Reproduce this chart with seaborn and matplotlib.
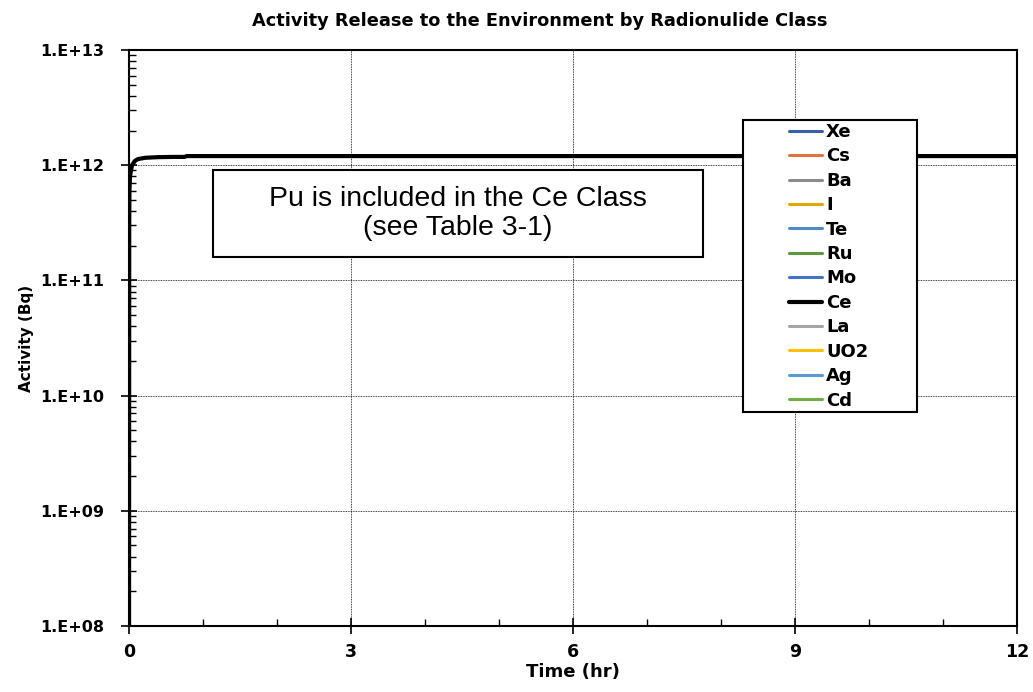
import matplotlib
matplotlib.use("Agg")
import matplotlib.pyplot as plt
import matplotlib.ticker as ticker
from matplotlib.patches import Rectangle
import numpy as np
import pandas as pd
import seaborn as sns

# Ce class release (the only class visible above 1E+08 Bq)
ce_time = [0.0, 0.003, 0.006, 0.013, 0.04, 0.08, 0.12, 0.22, 0.4, 0.6, 0.75, 0.78, 12.0]
ce_activity = [1e7, 3.0e11, 6.0e11, 8.0e11, 1.0e12, 1.09e12, 1.13e12, 1.16e12,
               1.175e12, 1.18e12, 1.18e12, 1.20e12, 1.20e12]

classes = ["Xe", "Cs", "Ba", "I", "Te", "Ru", "Mo", "Ce", "La", "UO2", "Ag", "Cd"]
class_colors = ["#3A5FA8", "#E0743A", "#8C8C8C", "#E0A800", "#4F8AC0", "#5A9A3C",
                "#4472C4", "#000000", "#A5A5A5", "#FFC000", "#5B9BD5", "#70AD47"]

x_ticks = [0, 3, 6, 9, 12]
y_ticks = [1e8, 1e9, 1e10, 1e11, 1e12, 1e13]
y_tick_labels = ["1.E+08", "1.E+09", "1.E+10", "1.E+11", "1.E+12", "1.E+13"]

sns.set_theme(style="white")
plt.rcParams["font.family"] = ["DejaVu Sans"]
for key in ["text.color", "axes.labelcolor", "xtick.color", "ytick.color"]:
    plt.rcParams[key] = "black"

W, H = 1033, 692
fig = plt.figure(figsize=(W / 100, H / 100), dpi=100)
ax = fig.add_axes([129 / W, 1 - 626 / H, (1017 - 129) / W, (626 - 50) / H])

df = pd.DataFrame({"time": ce_time, "activity": ce_activity})
for name, color in zip(classes, class_colors):
    if name == "Ce":
        sns.lineplot(data=df, x="time", y="activity", ax=ax, color=color, lw=3,
                     label=name, zorder=5)
    else:
        ax.plot([], [], color=color, lw=2.2, label=name)

ax.set_yscale("log")
ax.set_xlim(0, 12)
ax.set_ylim(1e8, 1e13)
ax.set_xticks(x_ticks)
ax.set_xticklabels([str(t) for t in x_ticks], fontsize=12.5, fontweight="bold")
ax.set_yticks(y_ticks)
ax.set_yticklabels(y_tick_labels, fontsize=11.5, fontweight="bold")
ax.xaxis.set_minor_locator(ticker.MultipleLocator(1))
ax.yaxis.set_minor_locator(ticker.LogLocator(base=10, subs=np.arange(2, 10), numticks=20))
ax.yaxis.set_minor_formatter(ticker.NullFormatter())
ax.tick_params(bottom=True, left=True, which="both")
ax.tick_params(which="major", direction="inout", length=12, width=1.2, color="black")
ax.tick_params(which="minor", direction="in", length=5, width=1, color="black")
ax.tick_params(axis="x", which="major", pad=6)
ax.tick_params(axis="y", which="major", pad=12)

ax.grid(which="major", color="black", linestyle=(0, (1, 1)), linewidth=0.6)
for s in ax.spines.values():
    s.set_color("black")
    s.set_linewidth(1.5)

ax.set_xlabel("Time (hr)", fontsize=13, fontweight="bold", labelpad=2)
ax.set_ylabel("Activity (Bq)", fontsize=11, fontweight="bold", labelpad=4)
fig.text(540 / W, 1 - 21 / H, "Activity Release to the Environment by Radionulide Class",
         ha="center", va="center", fontsize=12.8, fontweight="bold")

# annotation box
ax.add_patch(Rectangle((213 / W, 1 - 257 / H), (703 - 213) / W, (257 - 170) / H,
                       transform=fig.transFigure, facecolor="white", edgecolor="black",
                       lw=1.5, zorder=8, clip_on=False))
ax.text(458 / W, 1 - 213 / H, "Pu is included in the Ce Class\n(see Table 3-1)",
        transform=fig.transFigure, ha="center", va="center", fontsize=20.5,
        family=["Liberation Sans", "DejaVu Sans"], linespacing=1.15, zorder=9)

# legend frame
ax.add_patch(Rectangle((743 / W, 1 - 412 / H), (917 - 743) / W, (412 - 120) / H,
                       transform=fig.transFigure, facecolor="white", edgecolor="black",
                       lw=1.5, zorder=8, clip_on=False))
leg = ax.legend(loc="upper left", bbox_to_anchor=(789 / W, 1 - 123 / H),
                bbox_transform=fig.transFigure, frameon=False,
                prop={"weight": "bold", "size": 13}, handlelength=1.85, handletextpad=0.2,
                labelspacing=0.355, borderpad=0, borderaxespad=0)
leg.set_zorder(10)

fig.savefig("out.png", dpi=100, facecolor="white")
